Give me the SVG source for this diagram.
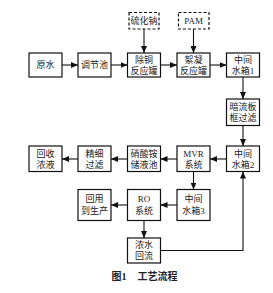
<svg xmlns="http://www.w3.org/2000/svg" width="273" height="293" viewBox="0 0 273 293">
<style>
.b{fill:#fff;stroke:#111;stroke-width:1.2}
.d{fill:#fff;stroke:#111;stroke-width:1.2;stroke-dasharray:3 2}
.t{font-family:"Liberation Serif","Noto Sans CJK SC",serif;font-size:9px;fill:#222;text-anchor:middle;dominant-baseline:central}
.c{fill:none;stroke:#111;stroke-width:1.1;marker-end:url(#a)}
.cap{font-family:"Liberation Serif","Noto Sans CJK SC",serif;font-size:10px;font-weight:bold;fill:#222;dominant-baseline:central}
</style>
<defs>
<marker id="a" markerUnits="userSpaceOnUse" markerWidth="7" markerHeight="6" refX="7" refY="3" orient="auto">
<path d="M0,0 L7,3 L0,6 Z" fill="#111"/>
</marker>
</defs>
<rect width="273" height="293" fill="#fff"/>
<g id="connectors">
<line class="c" x1="62" y1="65" x2="78" y2="65"/>
<line class="c" x1="111" y1="65" x2="127.5" y2="65"/>
<line class="c" x1="160.5" y1="65" x2="177" y2="65"/>
<line class="c" x1="210" y1="65" x2="226.5" y2="65"/>
<line class="c" x1="144" y1="29" x2="144" y2="53"/>
<line class="c" x1="193.5" y1="29" x2="193.5" y2="53"/>
<line class="c" x1="243" y1="77" x2="243" y2="99"/>
<line class="c" x1="243" y1="125.5" x2="243" y2="146"/>
<line class="c" x1="226.5" y1="159" x2="210" y2="159"/>
<line class="c" x1="177" y1="159" x2="160.5" y2="159"/>
<line class="c" x1="127.5" y1="159" x2="111" y2="159"/>
<line class="c" x1="78" y1="159" x2="62" y2="159"/>
<line class="c" x1="193.5" y1="171.5" x2="193.5" y2="189.5"/>
<line class="c" x1="177" y1="205" x2="160.5" y2="205"/>
<line class="c" x1="127.5" y1="205" x2="111" y2="205"/>
<line class="c" x1="144" y1="220.5" x2="144" y2="238"/>
<polyline class="c" points="160.5,250.5 243,250.5 243,171.5"/>
</g>
<g id="n_yuanshui"><rect class="b" x="29" y="53" width="33" height="24"/><text class="t" x="45.5" y="65">原水</text></g>
<g id="n_tiaojiechi"><rect class="b" x="78" y="53" width="33" height="24"/><text class="t" x="94.5" y="65">调节池</text></g>
<g id="n_chutong"><rect class="b" x="127.5" y="53" width="33" height="24"/><text class="t" x="144" y="60">除铜</text><text class="t" x="144" y="70.5">反应罐</text></g>
<g id="n_xuning"><rect class="b" x="177" y="53" width="33" height="24"/><text class="t" x="193.5" y="60">絮凝</text><text class="t" x="193.5" y="70.5">反应罐</text></g>
<g id="n_zj1"><rect class="b" x="226.5" y="53" width="33" height="24"/><text class="t" x="243" y="60">中间</text><text class="t" x="243" y="70.5">水箱1</text></g>
<g id="n_na2s"><rect class="d" x="129" y="12.5" width="30" height="16.5"/><text class="t" x="144" y="21">硫化钠</text></g>
<g id="n_pam"><rect class="d" x="178.5" y="12.5" width="30.5" height="16.5"/><text class="t" x="193.7" y="21">PAM</text></g>
<g id="n_anliu"><rect class="b" x="226.5" y="99" width="33" height="26.5"/><text class="t" x="243" y="106.5">暗流板</text><text class="t" x="243" y="117.5">框过滤</text></g>
<g id="n_zj2"><rect class="b" x="226.5" y="146" width="33" height="25.5"/><text class="t" x="243" y="153.5">中间</text><text class="t" x="243" y="164.5">水箱2</text></g>
<g id="n_mvr"><rect class="b" x="177" y="146" width="33" height="25.5"/><text class="t" x="193.5" y="153.5">MVR</text><text class="t" x="193.5" y="164.5">系统</text></g>
<g id="n_xsa"><rect class="b" x="127.5" y="146" width="33" height="25.5"/><text class="t" x="144" y="153.5">硝酸铵</text><text class="t" x="144" y="164.5">储液池</text></g>
<g id="n_jingxi"><rect class="b" x="78" y="146" width="33" height="25.5"/><text class="t" x="94.5" y="153.5">精细</text><text class="t" x="94.5" y="164.5">过滤</text></g>
<g id="n_huishou"><rect class="b" x="29" y="146" width="33" height="25.5"/><text class="t" x="45.5" y="153.5">回收</text><text class="t" x="45.5" y="164.5">浓液</text></g>
<g id="n_zj3"><rect class="b" x="177" y="189.5" width="33" height="31"/><text class="t" x="193.5" y="199">中间</text><text class="t" x="193.5" y="210.5">水箱3</text></g>
<g id="n_ro"><rect class="b" x="127.5" y="189.5" width="33" height="31"/><text class="t" x="144" y="199">RO</text><text class="t" x="144" y="210.5">系统</text></g>
<g id="n_huiyong"><rect class="b" x="78" y="189.5" width="33" height="31"/><text class="t" x="94.5" y="199">回用</text><text class="t" x="94.5" y="210.5">到生产</text></g>
<g id="n_nongshui"><rect class="b" x="127.5" y="238" width="33" height="25"/><text class="t" x="144" y="245">浓水</text><text class="t" x="144" y="256">回流</text></g>
<g id="caption"><text class="cap" x="111.5" y="276.5">图1</text><text class="cap" x="137.5" y="276.5">工艺流程</text></g>
</svg>
